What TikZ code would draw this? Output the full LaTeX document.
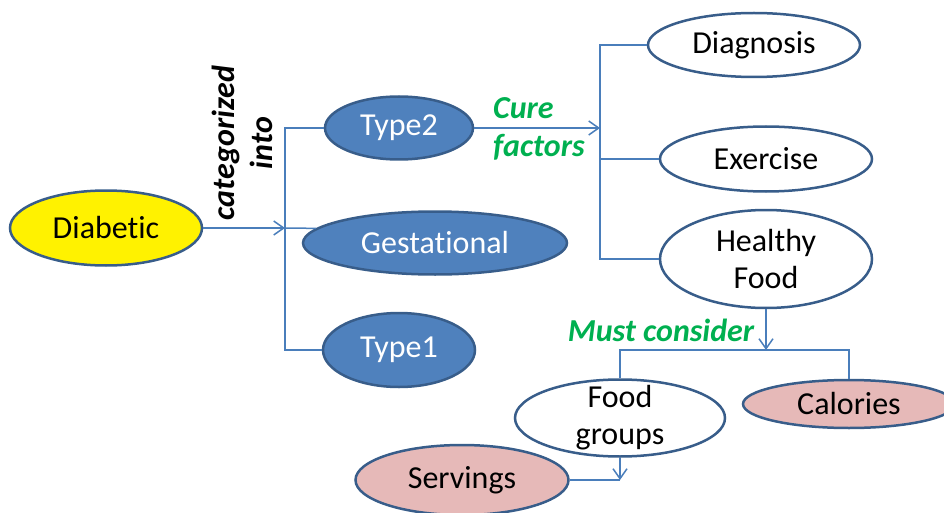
\documentclass[tikz,border=0pt]{standalone}
\usepackage{fontspec}
\setmainfont{Carlito}[Ligatures=NoCommon]
\usetikzlibrary{shapes.geometric,arrows.meta}
\definecolor{blfill}{HTML}{4F81BD}
\definecolor{bldraw}{HTML}{385D8A}
\definecolor{lnk}{HTML}{4A7EBB}
\definecolor{grn}{HTML}{00B050}
\definecolor{pnk}{HTML}{E6B9B8}
\tikzset{el/.style = {ellipse, draw=bldraw, line width=2.5pt, inner sep=0pt, align=center, font=\fontsize{32}{37}\selectfont},
           yel/.style = {el, fill=yellow},
           blu/.style = {el, fill=blfill, text=white},
           wht/.style = {el, fill=white},
           pk/.style = {el, fill=pnk},
           lab/.style = {inner sep=0pt, align=center, font=\fontsize{32}{38}\selectfont\bfseries\itshape},
           ln/.style = {draw=lnk, line width=1.5pt}}

\begin{document}
\begin{tikzpicture}[x=1pt, y=-1pt, >={Straight Barb[length=10pt,width=14pt]}]
    \useasboundingbox (0,0) rectangle (944,513);
    \node[yel, minimum width=192pt, minimum height=75pt] (dia) at (106,228) {Diabetic};
    \node[blu, minimum width=148pt, minimum height=63pt] (t2) at (399,128) {Type2};
    \node[blu, minimum width=264pt, minimum height=63pt] (ges) at (435,243) {Gestational};
    \node[blu, minimum width=152pt, minimum height=74pt] (t1) at (399,350) {Type1};
    \node[wht, minimum width=212pt, minimum height=64pt] (dg) at (754,45) {Diagnosis};
    \node[wht, minimum width=212pt, minimum height=65pt] (ex) at (766,159) {Exercise};
    \node[wht, minimum width=212pt, minimum height=98pt] (hf) at (766,259) {Healthy\\Food};
    \node[wht, minimum width=210pt, minimum height=77pt, inner ysep=-12pt] (fg) at (620,418) {Food\\groups};
    \node[pk, minimum width=212pt, minimum height=48pt] (cal) at (849,404) {Calories};
    \node[pk, minimum width=213pt, minimum height=70pt] (sv) at (462,480) {Servings};
    \node[lab, rotate=90] (cat) at (242,143) {categorized\\into};
    \node[lab, text=grn, anchor=west, align=left] (cure) at (493,129) {Cure\\factors};
    \node[lab, text=grn] (must) at (661,330) {Must consider};
    \coordinate (j1) at (285,228); \coordinate (j2) at (600,128);
    \coordinate (j3) at (766,350); \coordinate (j4) at (620,480);
    \draw[ln, ->] (dia) -- (j1);
    \draw[ln] (t2.west) -| (j1) |- (t1.west);
    \draw[ln] (j1) -- (ges.173);
    \draw[ln, ->] (t2) -- (j2);
    \draw[ln] (dg.west) -| (j2) |- (hf.west);
    \draw[ln] (ex.west) -- (ex.west -| j2);
    \draw[ln, ->] (hf) -- (j3);
    \draw[ln] (fg.north) |- (j3) -| (cal.north);
    \draw[ln, ->] (fg) -- (j4);
    \draw[ln] (sv) -- (j4);
\end{tikzpicture}
\end{document}
